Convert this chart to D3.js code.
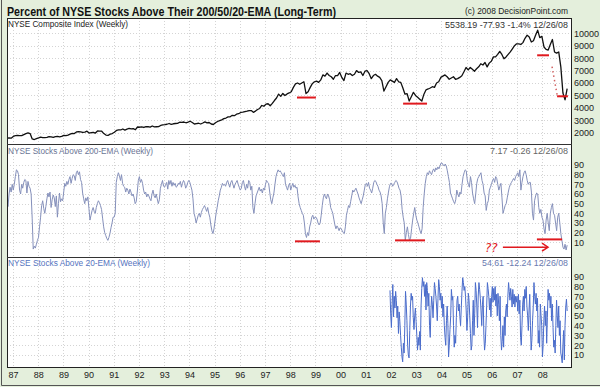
<!DOCTYPE html>
<html><head><meta charset="utf-8">
<script src="https://cdn.jsdelivr.net/npm/d3@7"></script>
<style>body{margin:0;background:#e4efdc;} svg{display:block;}</style>
</head><body>
<svg id="c" width="600" height="387"></svg>
<script>
// ---------------- DATA ----------------
const yearTicks = [1987,1988,1989,1990,1991,1992,1993,1994,1995,1996,1997,1998,1999,2000,2001,2002,2003,2004,2005,2006,2007,2008];
const yearLabels = ["87","88","89","90","91","92","93","94","95","96","97","98","99","00","01","02","03","04","05","06","07","08"];
const compositeTicks = [2000,3000,4000,5000,6000,7000,8000,9000,10000];
const pctTicks = [10,20,30,40,50,60,70,80,90];

// NYSE Composite, monthly, Oct 1986 .. Dec 2008
const compositeRange = [1986.76, 2008.99];
const composite = [
1560,1580,1560,
1700,1760,1790,1760,1770,1850,1930,1980,1930,1500,1450,1530,
1580,1640,1600,1610,1620,1680,1670,1620,1680,1700,1670,1700,
1790,1760,1800,1880,1940,1930,2060,2080,2070,2020,2050,2120,
1970,2000,2030,1970,2140,2130,2120,1930,1810,1780,1880,1930,
2040,2180,2220,2220,2300,2210,2290,2340,2300,2330,2240,2460,
2440,2470,2420,2480,2490,2450,2540,2470,2480,2490,2580,2630,
2650,2680,2740,2670,2720,2740,2750,2840,2830,2860,2800,2850,
2920,2820,2700,2730,2760,2700,2780,2870,2790,2820,2700,2660,
2800,2900,2970,3030,3130,3180,3270,3280,3400,3370,3490,3530,
3630,3660,3700,3730,3780,3780,3640,3740,3870,3950,4190,4130,
4300,4330,4170,4360,4590,4790,5110,4920,5160,4990,5120,5200,
5300,5650,5930,6000,5900,6000,6100,5150,5300,5650,5950,6100,
6150,6050,6250,6650,6550,6800,6600,6500,6300,6600,6600,6850,
6450,6200,6800,6700,6750,6600,6700,7000,6850,6900,6600,6950,
7000,6750,6350,6600,6700,6550,6450,6200,5350,5700,6050,6250,
6150,6050,6350,6100,6050,5600,5100,5150,4550,4900,5250,5000,
4850,4700,4550,5100,5450,5520,5600,5700,5650,6000,6100,6450,
6550,6650,6500,6300,6400,6500,6300,6350,6450,6580,6900,7250,
7050,7250,7100,6950,7150,7300,7550,7450,7650,7300,7600,7750,
8100,8100,8300,8550,8300,7950,8100,8300,8500,8750,9000,9150,
9150,9100,9250,9600,9850,9700,9300,9400,9850,10250,9650,9750,
8900,8700,8650,9100,9500,8500,8400,8500,7300,5200,4650,5540
];

// % NYSE stocks above 200-EMA, twice monthly, Oct 1986 .. Dec 2008
const above200Range = [1986.76, 2008.99];
const above200 = [
55,47,60,67,62,70,
64,70,78,85,84,80,64,60,70,66,72,75,74,61,73,68,66,60,35,3,6,4,8,12,
15,26,36,48,53,45,40,47,55,61,57,62,46,54,59,56,47,58,36,50,61,52,55,53,
62,71,68,73,70,75,78,71,76,80,79,74,82,84,80,83,75,72,61,55,50,56,53,57,
45,33,38,43,46,42,40,46,50,53,51,48,44,35,26,20,17,14,12,15,19,25,30,36,
36,40,72,78,82,79,74,80,71,68,67,62,66,64,60,65,62,58,60,56,50,52,62,74,
78,72,75,71,64,60,62,57,60,58,55,53,60,64,58,56,60,55,50,54,66,70,74,68,
67,70,72,65,74,70,74,68,72,69,71,67,68,71,70,73,67,71,74,72,66,68,72,74,
72,68,64,55,40,36,30,34,38,40,36,41,44,46,48,45,42,46,40,36,28,22,19,24,
32,40,46,53,58,64,67,71,69,70,68,72,74,70,67,72,74,70,66,70,72,74,70,67,
64,66,72,74,68,64,70,66,74,72,64,68,46,40,50,58,61,64,67,63,65,61,66,64,
70,74,72,71,62,54,50,56,61,70,78,82,85,83,84,82,80,78,82,70,67,64,69,71,
64,68,71,67,69,66,67,57,50,46,43,40,38,30,19,15,20,17,26,30,36,38,34,36,
36,34,30,28,30,38,48,56,60,57,55,60,58,54,46,43,40,34,28,24,27,25,22,25,
24,22,20,19,26,38,43,48,46,52,58,64,62,64,66,63,60,56,53,50,54,58,64,70,
71,68,72,66,64,61,66,72,74,73,70,68,64,62,58,50,30,19,40,46,55,62,68,71,
71,68,70,72,74,73,70,66,64,58,44,36,30,12,20,26,18,12,14,24,33,40,46,38,
33,30,26,22,19,24,46,60,71,78,82,80,84,82,80,84,86,83,87,85,88,86,89,92,
92,90,89,91,89,84,78,72,61,58,55,52,50,54,64,60,57,62,60,70,78,82,85,84,
74,70,67,78,72,61,55,50,60,71,76,78,80,82,74,70,61,58,43,50,53,64,67,70,
74,76,72,78,76,70,64,68,71,56,40,44,48,50,56,62,67,70,72,74,76,74,78,80,
82,78,85,64,72,78,82,84,80,74,70,72,72,62,40,33,53,58,61,60,46,40,44,36,
33,24,19,33,40,30,22,40,46,50,40,38,30,22,36,40,30,19,12,5,3,8,2,7
];

// % NYSE stocks above 20-EMA, three per month, Jan 2002 .. Dec 2008
const above20Range = [2001.96, 2008.99];
const above20 = [
76,52,38,62,82,49,70,58,75,66,48,60,32,54,44,30,18,8,3,22,12,40,75,62,45,20,10,7,35,60,73,66,70,48,36,50,
58,44,30,15,28,20,34,15,60,78,89,80,85,70,82,56,84,76,60,73,40,28,55,70,62,48,66,84,78,70,60,45,68,87,80,66,
73,58,70,49,62,40,28,20,45,60,42,8,20,36,50,77,66,70,40,18,30,22,48,66,70,55,62,49,40,58,75,89,84,76,80,70,
55,35,48,73,66,50,32,15,20,45,66,30,52,84,76,60,38,70,84,77,68,55,40,62,70,30,15,22,40,60,84,78,70,56,68,49,
70,80,64,78,66,80,60,72,50,73,62,45,70,30,15,24,40,18,49,30,55,62,49,70,84,75,66,78,70,59,77,62,72,59,70,64,
70,55,72,52,66,28,20,40,62,70,55,77,68,80,60,50,35,56,72,40,15,25,45,60,84,70,62,73,55,68,22,35,18,62,50,40,
8,20,45,60,40,55,22,48,77,66,73,58,70,45,62,38,18,25,12,40,66,50,38,60,30,45,12,8,2,20,35,5,40,59,67,55
];

// Red hand-drawn annotations (in data units)
const compositeSupports = [
  {from:1998.27, to:1999.02, value:4830},
  {from:2002.48, to:2003.43, value:4340},
  {from:2007.80, to:2008.27, value:8230},
  {from:2008.59, to:2009.02, value:4930}
];
const compositeDotted = [{year:2008.39, value:7320},{year:2008.59, value:5060}];
const above200Supports = [
  {from:1998.19, to:1999.18, value:11},
  {from:2002.16, to:2003.35, value:12},
  {from:2007.79, to:2008.79, value:13}
];
const above200Arrow = {from:2006.44, to:2008.23, value:5};

const titleText = "Percent of NYSE Stocks Above Their 200/50/20-EMA (Long-Term)";
const copyrightText = "(c) 2008 DecisionPoint.com";
const panelTitles = ["NYSE Composite Index (Weekly)","NYSE Stocks Above 200-EMA (Weekly)","NYSE Stocks Above 20-EMA (Weekly)"];
const panelLast = ["5538.19  -77.93  -1.4%  12/26/08","7.17  -0.26  12/26/08","54.61  -12.24  12/26/08"];

// ---------------- DRAW ----------------
const svg = d3.select("#c");
const FONT = "'Liberation Sans', Arial, sans-serif";
const L = 7, R = 572, T = 18, D1 = 144, D2 = 257, B = 368;

const x = d3.scaleLinear().domain([1987, 2008]).range([13, 542.2]);
const yTop = d3.scaleLinear().domain([2000, 10000]).range([132.7, 33.3]);
const yMid = d3.scaleLinear().domain([10, 90]).range([242.3, 165]);
const yBot = d3.scaleLinear().domain([10, 90]).range([355, 276.7]);

function dates(range, n){ return d3.range(n).map(i => range[0] + i*(range[1]-range[0])/(n-1)); }

// background + outer edge
svg.append("rect").attr("width",600).attr("height",387).attr("fill","#e4efdc");
svg.append("path").attr("d","M1.5,0V385.5H600").attr("fill","none").attr("stroke","#555");

// plot area
svg.append("rect").attr("x",L).attr("y",T).attr("width",R-L).attr("height",B-T).attr("fill","#fff");

const panels = [
  {top:T, bot:D1, y:yTop, ticks:compositeTicks},
  {top:D1, bot:D2, y:yMid, ticks:pctTicks},
  {top:D2, bot:B, y:yBot, ticks:pctTicks}
];

const defs = svg.append("defs");
panels.forEach((p,i)=>{
  defs.append("clipPath").attr("id","clip"+i).append("rect")
    .attr("x",L).attr("y",p.top).attr("width",R-L).attr("height",p.bot-p.top);
});

// grid
const grid = svg.append("g").attr("stroke","#d4d4d4").attr("stroke-dasharray","1,2").attr("stroke-width",1);
panels.forEach(p=>{
  yearTicks.forEach(yr=>{
    const xx = Math.round(x(yr))+0.5;
    grid.append("line").attr("x1",xx).attr("x2",xx).attr("y1",p.top).attr("y2",p.bot);
  });
  p.ticks.forEach(t=>{
    const yy = Math.round(p.y(t))+0.5;
    grid.append("line").attr("x1",L).attr("x2",R).attr("y1",yy).attr("y2",yy);
  });
});

// series
const compDates = dates(compositeRange, composite.length);
const a200Dates = dates(above200Range, above200.length);
const a20Dates = dates(above20Range, above20.length);

svg.append("path").attr("clip-path","url(#clip0)")
  .datum(composite.map((v,i)=>[compDates[i],v]))
  .attr("fill","none").attr("stroke","#111").attr("stroke-width",1.3).attr("stroke-linejoin","round")
  .attr("d", d3.line().x(d=>x(d[0])).y(d=>yTop(d[1])));

svg.append("path").attr("clip-path","url(#clip1)")
  .datum(above200.map((v,i)=>[a200Dates[i],v]))
  .attr("fill","none").attr("stroke","#8590bb").attr("stroke-width",1)
  .attr("d", d3.line().x(d=>x(d[0])).y(d=>yMid(d[1])));

svg.append("path").attr("clip-path","url(#clip2)")
  .datum(above20.map((v,i)=>[a20Dates[i],v]))
  .attr("fill","none").attr("stroke","#4a6ccb").attr("stroke-width",1)
  .attr("d", d3.line().x(d=>x(d[0])).y(d=>yBot(d[1])));

// red annotations
const red = "#e0191e";
const ann = svg.append("g").attr("stroke",red).attr("fill","none");
compositeSupports.forEach(s=>{
  ann.append("line").attr("x1",x(s.from)).attr("x2",x(s.to)).attr("y1",yTop(s.value)).attr("y2",yTop(s.value)).attr("stroke-width",2);
});
ann.append("path").attr("d", d3.line().x(d=>x(d.year)).y(d=>yTop(d.value))(compositeDotted))
  .attr("stroke-width",1.5).attr("stroke-dasharray","1.5,3").attr("stroke","#d06060");
above200Supports.forEach(s=>{
  ann.append("line").attr("x1",x(s.from)).attr("x2",x(s.to)).attr("y1",yMid(s.value)).attr("y2",yMid(s.value)).attr("stroke-width",2);
});
{
  const ax1 = x(above200Arrow.from), ax2 = x(above200Arrow.to), ay = yMid(above200Arrow.value);
  ann.append("line").attr("x1",ax1).attr("x2",ax2).attr("y1",ay).attr("y2",ay).attr("stroke-width",1.5);
  ann.append("path").attr("d",`M${ax2-6},${ay-4}L${ax2},${ay}L${ax2-6},${ay+4}`).attr("stroke-width",1.5);
  svg.append("text").attr("x",ax1-18).attr("y",ay+4.5).attr("fill",red)
    .attr("font-family","'DejaVu Sans', sans-serif").attr("font-size",12).attr("font-style","italic").text("??");
}

// frame and dividers
svg.append("rect").attr("x",L+0.5).attr("y",T+0.5).attr("width",R-L-1).attr("height",B-T-1)
  .attr("fill","none").attr("stroke","#222");
[D1,D2].forEach(d=>svg.append("line").attr("x1",L).attr("x2",R).attr("y1",d+0.5).attr("y2",d+0.5).attr("stroke","#333"));

// axes
function styleAxis(g){
  g.select(".domain").remove();
  g.selectAll("text").attr("font-family",FONT).attr("font-size",9).attr("fill","#222");
}
panels.forEach(p=>{
  svg.append("g").attr("transform",`translate(${R},0)`)
    .call(d3.axisRight(p.y).tickValues(p.ticks).tickSize(0).tickPadding(2).tickFormat(d3.format("d")))
    .call(styleAxis);
});
svg.append("g").attr("transform",`translate(0,${B})`)
  .call(d3.axisBottom(x).tickValues(yearTicks).tickSize(0).tickPadding(4).tickFormat((d,i)=>yearLabels[i]))
  .call(styleAxis);

// texts
function txt(s, xx, yy, opts){
  const t = svg.append("text").attr("x",xx).attr("y",yy).text(s)
    .attr("font-family",FONT).attr("font-size",opts.size||9).attr("fill",opts.fill||"#222");
  if(opts.bold) t.attr("font-weight","bold");
  if(opts.anchor) t.attr("text-anchor",opts.anchor);
  if(opts.len) t.attr("textLength",opts.len).attr("lengthAdjust","spacingAndGlyphs");
  return t;
}
txt(titleText, 7, 15.5, {size:13, bold:true, fill:"#111", len:329});
txt(copyrightText, 568, 14, {size:9, fill:"#222", anchor:"end", len:103});
txt(panelTitles[0], 8, 26.5, {size:8.5, fill:"#222", len:120});
txt(panelLast[0], 568, 27.5, {size:8.5, fill:"#333", anchor:"end", len:123});
txt(panelTitles[1], 8, 154, {size:8.5, fill:"#6a7494", len:145});
txt(panelLast[1], 568, 154, {size:8.5, fill:"#666", anchor:"end", len:78});
txt(panelTitles[2], 8, 266, {size:8.5, fill:"#5574c0", len:142});
txt(panelLast[2], 568, 266, {size:8.5, fill:"#6a7ab0", anchor:"end", len:86});
</script>
</body></html>
